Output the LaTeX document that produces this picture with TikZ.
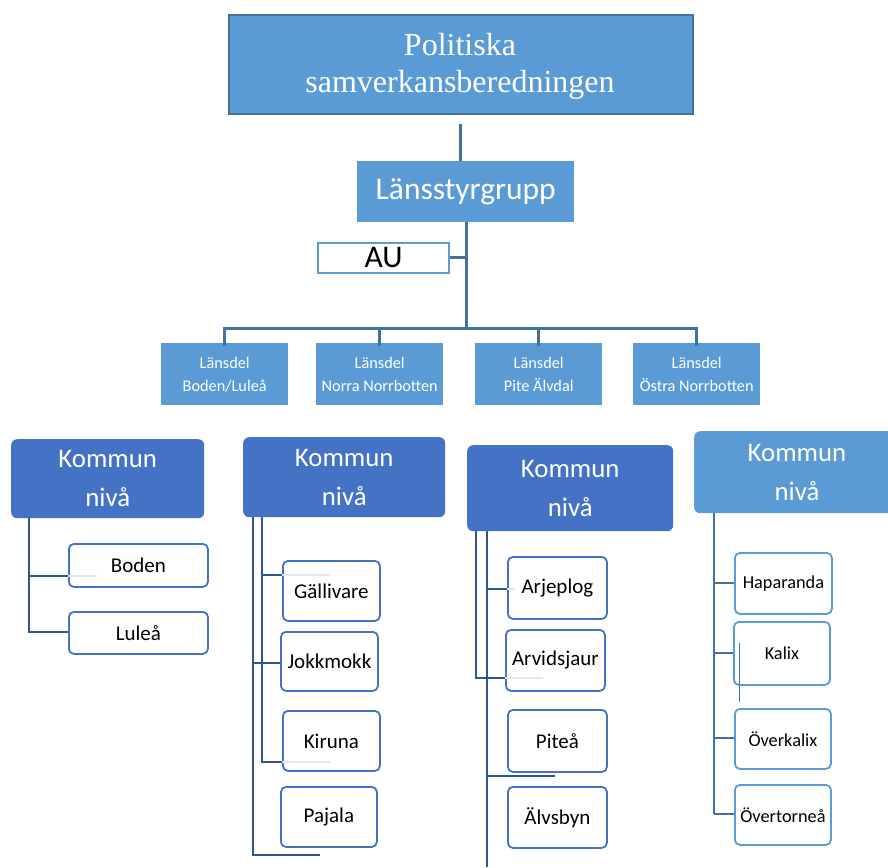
\documentclass[tikz,border=0pt]{standalone}
\usepackage{fontspec}
\setmainfont{Carlito}
\newfontfamily\seriffont{Liberation Serif}
\definecolor{fillA}{HTML}{5B9BD5}
\definecolor{fillB}{HTML}{4472C4}
\definecolor{lineA}{HTML}{41719C}
\definecolor{lineB}{HTML}{2F5597}
\definecolor{faint}{HTML}{E1E7F2}
\newcommand{\bx}[7]{\node[#6, minimum width={(#4-#2)*1pt}, minimum height={(#5-#3)*1pt}, anchor=north west, inner sep=0pt] (#1) at (#2,#3) {#7};}
\tikzset{
  topbox/.style={fill=fillA, draw=lineA, line width=2pt},
  toptext/.style={text=white, align=center, font=\seriffont\fontsize{32}{37}\selectfont},
  lanbox/.style={fill=fillA, text=white, font=\fontsize{31.5}{34}\selectfont},
  aubox/.style={fill=white, draw=fillA, line width=2pt, text=black, font=\fontsize{31.5}{34}\selectfont},
  delbox/.style={fill=fillA, text=white, align=center, font=\fontsize{16.3}{23}\selectfont},
  kombox/.style={rounded corners=6pt, fill=fillB, text=white, align=center, font=\fontsize{26.8}{39}\selectfont},
  kombox4/.style={kombox, fill=fillA},
  kid/.style={rounded corners=5pt, draw=fillB, line width=1.8pt, fill=white, text=black, font=\fontsize{21}{24}\selectfont},
  kid4/.style={kid, draw=fillA, font=\fontsize{18.3}{22}\selectfont},
  conA/.style={draw=lineA, line width=3pt},
  conB/.style={draw=lineB, line width=2.5pt},
  conC/.style={draw=lineA, line width=2.5pt},
  faintline/.style={draw=faint, line width=2pt},
}
\begin{document}
\begin{tikzpicture}[x=1pt, y=-1pt]
\useasboundingbox (0,0) rectangle (888,867);
\fill[white] (0,0) rectangle (888,867);

% top
\bx{pol}{228}{14}{692}{113}{topbox}{}
\node[toptext] (polt) at (460,66) {Politiska\\samverkansberedningen};
\bx{lan}{357}{161}{574}{222}{lanbox}{Länsstyrgrupp}
\bx{au}{317}{242}{448}{272}{aubox}{AU}

\coordinate (polc) at (460,124);
\draw[conA] (polc) -- (polc |- lan.north);
\coordinate (trunkT) at (466,222);
\coordinate (trunkB) at (466,328);
\coordinate (auJ) at (466,257);
\draw[conA] (trunkT) -- (trunkB);
\draw[conA] (au.east |- auJ) -- (auJ);

% Länsdel
\bx{d1}{161}{343}{288}{405}{delbox}{Länsdel\\Boden/Luleå}
\bx{d2}{316}{343}{443}{405}{delbox}{Länsdel\\Norra Norrbotten}
\bx{d3}{475}{343}{602}{405}{delbox}{Länsdel\\Pite Älvdal}
\bx{d4}{633}{343}{760}{405}{delbox}{Länsdel\\Östra Norrbotten}
\coordinate (hb1) at (224,328);
\coordinate (hb2) at (379,328);
\coordinate (hb3) at (538,328);
\coordinate (hb4) at (696,328);
\draw[conA, line cap=rect] (hb1) -- (hb4);
\foreach \i in {1,...,4}{ \draw[conA] (hb\i) -- ([yshift=-3pt]hb\i |- d\i.north); }

% Kommun nivå
\bx{k1}{11}{439}{204}{518}{kombox}{Kommun\\nivå}
\bx{k2}{243}{437}{445}{517}{kombox}{Kommun\\nivå}
\bx{k3}{467}{445}{673}{531}{kombox}{Kommun\\nivå}
\node[kombox4, minimum width=250pt, minimum height=82pt, anchor=north west, inner sep=0pt] (k4) at (694,431) {};
\node[text=white, align=center, font=\fontsize{26.8}{39}\selectfont, anchor=center] (k4t) at (797,472) {Kommun\\nivå};

% column 1
\bx{boden}{68}{543}{207}{586}{kid}{Boden}
\bx{lulea}{68}{611}{207}{653}{kid}{Luleå}
\coordinate (c1t) at (29,518);
\coordinate (c1a) at (29,576);
\coordinate (c1b) at (29,632);
\draw[faintline] (boden.west |- c1a) -- ++(29,0);
\draw[conB] (c1t) -- (c1b) -- (c1b -| lulea.west);
\draw[conB] (c1a) -- (c1a -| boden.west);

% column 2
\bx{gal}{282}{560}{379}{620}{kid}{Gällivare}
\bx{jok}{280}{631}{377}{690}{kid}{Jokkmokk}
\bx{kir}{282}{710}{379}{770}{kid}{Kiruna}
\bx{paj}{280}{786}{376}{846}{kid}{Pajala}
\coordinate (c2ot) at (253,517);
\coordinate (c2ob) at (253,855);
\coordinate (c2oe) at (320,855);
\coordinate (c2it) at (262,517);
\coordinate (c2ia) at (262,575);
\coordinate (c2ib) at (262,762);
\coordinate (c2j) at (253,663);
\draw[faintline] (gal.west |- c2ia) -- ++(48,0);
\draw[faintline] (kir.west |- c2ib) -- ++(48,0);
\draw[conB] (c2ot) -- (c2ob) -- (c2oe);
\draw[conB] (c2it) -- (c2ib) -- (c2ib -| kir.west);
\draw[conB] (c2ia) -- (c2ia -| gal.west);
\draw[conB] (c2j) -- (c2j -| jok.west);

% column 3
\bx{arj}{507}{556}{606}{618}{kid}{Arjeplog}
\bx{arv}{505}{629}{604}{690}{kid}{Arvidsjaur}
\bx{pit}{507}{709}{606}{771}{kid}{Piteå}
\bx{alv}{507}{786}{606}{847}{kid}{Älvsbyn}
\coordinate (c3lt) at (476,531);
\coordinate (c3lb) at (476,678);
\coordinate (c3rt) at (487,531);
\coordinate (c3rb) at (487,867);
\coordinate (c3a) at (487,589);
\coordinate (c3p) at (487,776);
\coordinate (c3pe) at (555,776);
\draw[faintline] (arv.west |- c3lb) -- ++(38,0);
\draw[faintline] (arj.west |- c3a) -- ++(8,0);
\draw[conB] (c3lt) -- (c3lb) -- (c3lb -| arv.west);
\draw[conB] (c3rt) -- (c3rb);
\draw[conB] (c3a) -- (c3a -| arj.west);
\draw[conB] (c3p) -- (c3pe);

% column 4
\bx{hap}{734}{552}{831}{613}{kid4}{Haparanda}
\bx{kal}{733}{621}{829}{684}{kid4}{Kalix}
\bx{ovk}{734}{708}{830}{768}{kid4}{Överkalix}
\bx{ovt}{734}{784}{830}{844}{kid4}{Övertorneå}
\coordinate (c4t) at (714,513);
\coordinate (c4b) at (714,814);
\draw[conC] (c4t) -- (c4b);
\foreach \n/\yy in {hap/583, kal/653, ovk/738, ovt/814}{
  \coordinate (j\n) at (714,\yy);
  \draw[conC] (j\n) -- (j\n -| \n.west);
}
\coordinate (strayT) at (739,643);
\coordinate (strayB) at (739,702);
\draw[draw=fillB, line width=1pt] (strayT) -- (strayB);
\end{tikzpicture}
\end{document}
